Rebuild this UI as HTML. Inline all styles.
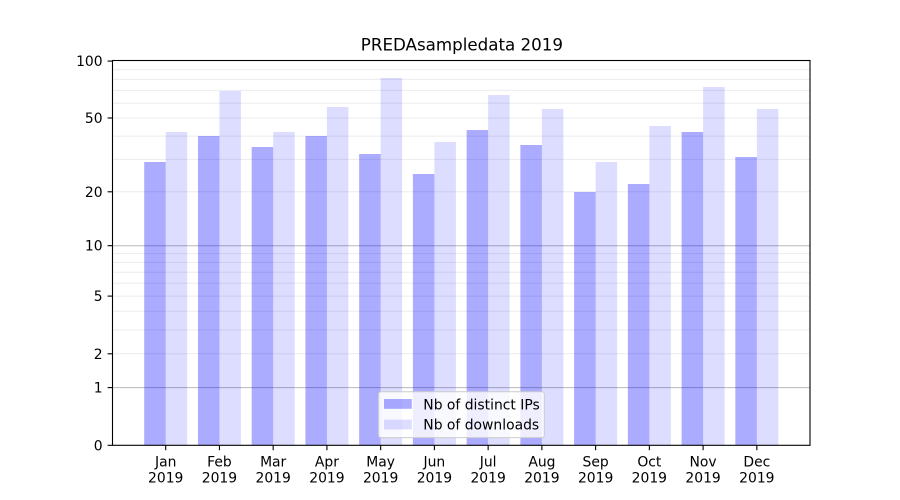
<!DOCTYPE html>
<html>
<head>
<meta charset="utf-8">
<style>
html,body{margin:0;padding:0;background:#fff;}
svg{display:block;}
text{font-family:"DejaVu Sans","Liberation Sans",sans-serif;fill:#000;}
</style>
</head>
<body>
<svg width="900" height="500" viewBox="0 0 900 500" xmlns="http://www.w3.org/2000/svg">
<rect x="0" y="0" width="900" height="500" fill="#fff"/>
<!-- minor grid -->
<g stroke="#ebebeb" stroke-width="1">
<line x1="112.5" x2="810" y1="353.8" y2="353.8"/>
<line x1="112.5" x2="810" y1="329.9" y2="329.9"/>
<line x1="112.5" x2="810" y1="311.3" y2="311.3"/>
<line x1="112.5" x2="810" y1="296.1" y2="296.1"/>
<line x1="112.5" x2="810" y1="283.3" y2="283.3"/>
<line x1="112.5" x2="810" y1="272.2" y2="272.2"/>
<line x1="112.5" x2="810" y1="262.4" y2="262.4"/>
<line x1="112.5" x2="810" y1="253.6" y2="253.6"/>
<line x1="112.5" x2="810" y1="191.8" y2="191.8"/>
<line x1="112.5" x2="810" y1="159.4" y2="159.4"/>
<line x1="112.5" x2="810" y1="136.1" y2="136.1"/>
<line x1="112.5" x2="810" y1="118.0" y2="118.0"/>
<line x1="112.5" x2="810" y1="103.1" y2="103.1"/>
<line x1="112.5" x2="810" y1="90.4" y2="90.4"/>
<line x1="112.5" x2="810" y1="79.4" y2="79.4"/>
<line x1="112.5" x2="810" y1="69.8" y2="69.8"/>
</g>
<!-- major grid -->
<g stroke="#b8b8b8" stroke-width="1">
<line x1="112.5" x2="810" y1="387.6" y2="387.6"/>
<line x1="112.5" x2="810" y1="245.7" y2="245.7"/>
</g>
<!-- bars -->
<g fill="#0000ff" fill-opacity="0.33">
<rect x="144.2" y="162" width="21.5" height="283.3"/>
<rect x="197.94" y="136" width="21.5" height="309.3"/>
<rect x="251.68" y="147" width="21.5" height="298.3"/>
<rect x="305.42" y="136" width="21.5" height="309.3"/>
<rect x="359.16" y="154" width="21.5" height="291.3"/>
<rect x="412.9" y="174" width="21.5" height="271.3"/>
<rect x="466.64" y="130" width="21.5" height="315.3"/>
<rect x="520.38" y="145" width="21.5" height="300.3"/>
<rect x="574.12" y="192" width="21.5" height="253.3"/>
<rect x="627.86" y="184" width="21.5" height="261.3"/>
<rect x="681.6" y="132" width="21.5" height="313.3"/>
<rect x="735.34" y="157" width="21.5" height="288.3"/>
</g>
<g fill="#0000ff" fill-opacity="0.135">
<rect x="165.7" y="132" width="21.5" height="313.3"/>
<rect x="219.44" y="91" width="21.5" height="354.3"/>
<rect x="273.18" y="132" width="21.5" height="313.3"/>
<rect x="326.92" y="107" width="21.5" height="338.3"/>
<rect x="380.66" y="78" width="21.5" height="367.3"/>
<rect x="434.4" y="142" width="21.5" height="303.3"/>
<rect x="488.14" y="95" width="21.5" height="350.3"/>
<rect x="541.88" y="109" width="21.5" height="336.3"/>
<rect x="595.62" y="162" width="21.5" height="283.3"/>
<rect x="649.36" y="126" width="21.5" height="319.3"/>
<rect x="703.1" y="87" width="21.5" height="358.3"/>
<rect x="756.84" y="109" width="21.5" height="336.3"/>
</g>
<!-- frame -->
<rect x="112.5" y="60.5" width="697.5" height="384.8" fill="none" stroke="#000" stroke-width="1.1"/>
<!-- y ticks -->
<g stroke="#000" stroke-width="1.1">
<line x1="107.6" x2="112.5" y1="445.3" y2="445.3"/>
<line x1="107.6" x2="112.5" y1="387.6" y2="387.6"/>
<line x1="107.6" x2="112.5" y1="353.8" y2="353.8"/>
<line x1="107.6" x2="112.5" y1="296.1" y2="296.1"/>
<line x1="107.6" x2="112.5" y1="245.7" y2="245.7"/>
<line x1="107.6" x2="112.5" y1="191.8" y2="191.8"/>
<line x1="107.6" x2="112.5" y1="118.0" y2="118.0"/>
<line x1="107.6" x2="112.5" y1="61.1" y2="61.1"/>
</g>
<g font-size="13.9" text-anchor="end">
<text x="102.6" y="450.3">0</text>
<text x="102.6" y="392.6">1</text>
<text x="102.6" y="358.8">2</text>
<text x="102.6" y="301.1">5</text>
<text x="102.6" y="250.7">10</text>
<text x="102.6" y="196.8">20</text>
<text x="102.6" y="123.0">50</text>
<text x="102.6" y="66.1">100</text>
</g>
<!-- x ticks -->
<g stroke="#000" stroke-width="1.1">
<line x1="165.7" x2="165.7" y1="445.3" y2="450.2"/>
<line x1="219.44" x2="219.44" y1="445.3" y2="450.2"/>
<line x1="273.18" x2="273.18" y1="445.3" y2="450.2"/>
<line x1="326.92" x2="326.92" y1="445.3" y2="450.2"/>
<line x1="380.66" x2="380.66" y1="445.3" y2="450.2"/>
<line x1="434.4" x2="434.4" y1="445.3" y2="450.2"/>
<line x1="488.14" x2="488.14" y1="445.3" y2="450.2"/>
<line x1="541.88" x2="541.88" y1="445.3" y2="450.2"/>
<line x1="595.62" x2="595.62" y1="445.3" y2="450.2"/>
<line x1="649.36" x2="649.36" y1="445.3" y2="450.2"/>
<line x1="703.1" x2="703.1" y1="445.3" y2="450.2"/>
<line x1="756.84" x2="756.84" y1="445.3" y2="450.2"/>
</g>
<g font-size="13.9" text-anchor="middle">
<text x="165.7" y="466.7">Jan</text><text x="165.7" y="482.3">2019</text>
<text x="219.44" y="466.7">Feb</text><text x="219.44" y="482.3">2019</text>
<text x="273.18" y="466.7">Mar</text><text x="273.18" y="482.3">2019</text>
<text x="326.92" y="466.7">Apr</text><text x="326.92" y="482.3">2019</text>
<text x="380.66" y="466.7">May</text><text x="380.66" y="482.3">2019</text>
<text x="434.4" y="466.7">Jun</text><text x="434.4" y="482.3">2019</text>
<text x="488.14" y="466.7">Jul</text><text x="488.14" y="482.3">2019</text>
<text x="541.88" y="466.7">Aug</text><text x="541.88" y="482.3">2019</text>
<text x="595.62" y="466.7">Sep</text><text x="595.62" y="482.3">2019</text>
<text x="649.36" y="466.7">Oct</text><text x="649.36" y="482.3">2019</text>
<text x="703.1" y="466.7">Nov</text><text x="703.1" y="482.3">2019</text>
<text x="756.84" y="466.7">Dec</text><text x="756.84" y="482.3">2019</text>
</g>
<!-- title -->
<text x="461.9" y="50.5" font-size="16.7" text-anchor="middle">PREDAsampledata 2019</text>
<!-- legend -->
<rect x="378.5" y="391.8" width="165.8" height="45.8" rx="2.5" ry="2.5" fill="#fff" fill-opacity="0.8" stroke="#cccccc" stroke-width="1"/>
<rect x="384" y="399" width="27.8" height="9.8" fill="#0000ff" fill-opacity="0.33"/>
<rect x="384" y="419.6" width="27.8" height="9.8" fill="#0000ff" fill-opacity="0.135"/>
<g font-size="13.9">
<text x="423.3" y="409.3">Nb of distinct IPs</text>
<text x="423.3" y="429.5">Nb of downloads</text>
</g>
</svg>
</body>
</html>
